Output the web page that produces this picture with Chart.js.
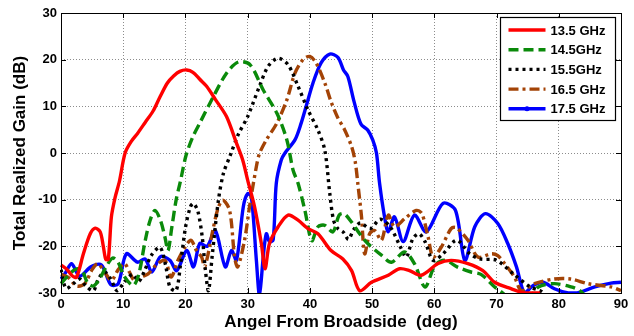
<!DOCTYPE html>
<html>
<head>
<meta charset="utf-8">
<script src="https://cdn.jsdelivr.net/npm/chart.js@4.4.1/dist/chart.umd.min.js"></script>
<style>
  html, body { margin: 0; padding: 0; background: #fff; }
  #wrap { width: 634px; height: 336px; }
</style>
</head>
<body>
<div id="wrap"><canvas id="gain" width="634" height="336"></canvas></div>
<script>
// angles (deg) and realized gain (dB)
const redAngle = [0, 1, 1.8, 2.5, 3.6, 4.7, 5.5, 6.3, 6.8, 7.2, 7.6, 8.1, 8.7, 9.4, 10.3, 11.3, 12.3, 13.5, 14.8, 15.9, 17.1, 18.1, 19.1, 20.2, 21.2, 22.3, 23.4, 24.8, 26.6, 28.2, 29.2, 30, 31.1, 32.2, 32.8, 33.5, 34.9, 36.5, 38.1, 39.7, 41.3, 43.4, 45.3, 46.7, 48, 49.9, 52.6, 54.4, 56, 57.9, 60.6, 62.7, 65.4, 67.8, 69.7, 72.4, 74.5, 77];
const redGain = [-24, -25, -26.3, -26.6, -21.6, -17.3, -16.1, -16.9, -20, -22.8, -22.8, -13.7, -9.5, -6, 0, 2.5, 4.2, 6.5, 9, 12, 15, 16.5, 17.5, 17.8, 17.3, 15.8, 14.3, 11.5, 7.8, 2.1, -1.5, -5.8, -11.5, -19.4, -24.8, -19.4, -15.8, -13.3, -14.4, -16.2, -17.3, -20.9, -22.7, -25.2, -29.5, -27.7, -26.2, -24.8, -25.2, -26.2, -23.7, -23, -23.7, -25.2, -27.7, -29.1, -30, -30];

const greenAngle = [0, 1, 2.2, 3.3, 4.3, 5.2, 6.2, 7.2, 8.3, 9.2, 10.2, 11.6, 12.5, 13.5, 14.3, 15.1, 16, 16.7, 17.2, 17.8, 18.5, 19.2, 20.1, 21.2, 22.3, 24.5, 26.6, 28.5, 30.4, 32.5, 34.7, 36.3, 37.3, 38.1, 39.2, 40.3, 41.3, 42.4, 43.7, 44.7, 45.5, 46.7, 48, 49.3, 51.5, 53.1, 55.2, 56.8, 58.5, 60.1, 61.7, 63.8, 65.9, 67.5, 69.7, 71, 72.5, 75, 76.7, 79.3, 82, 83.4, 84.5];
const greenGain = [-28, -26.5, -25, -25, -27.9, -28.5, -27, -24.5, -22.5, -23.5, -26.5, -28.4, -26, -19, -14.5, -12.3, -14.5, -18, -20.9, -16, -10.1, -6, -0.5, 3.5, 6.4, 12.1, 17.1, 19.5, 18.9, 13.5, 8.5, 2.8, -3.7, -6.5, -12.3, -18.8, -15.8, -15.5, -16.9, -13.3, -13, -14.8, -17.3, -19.4, -21.9, -23.4, -21.2, -23.7, -28.7, -24.1, -23, -24.5, -25.5, -26, -28.7, -30, -31.5, -31.5, -28.7, -28, -28.7, -29.5, -31];

const blackAngle = [0, 0.8, 2, 3, 4, 5.2, 6, 7, 8, 9, 10, 11.5, 12.5, 13.5, 14.5, 15.9, 16.8, 17.5, 18.5, 19.2, 20, 20.8, 21.3, 22, 22.7, 23.2, 23.7, 24.3, 25.3, 26.1, 27.2, 28.5, 30, 31.9, 33.3, 34.9, 36.5, 38.1, 39.7, 41.3, 42.4, 43.2, 43.8, 44.5, 45.4, 46.2, 47, 48.1, 49.7, 51.3, 52.9, 54.5, 55.5, 56.5, 57.5, 58.5, 59.8, 61.4, 63.6, 65.7, 67.3, 70, 72.7, 75.4, 77, 78];
const blackGain = [-25, -29, -28, -27, -28.5, -29.5, -27, -25.5, -27, -29.5, -28, -26, -27.5, -25, -22, -20.2, -24, -28.7, -29.5, -24, -16, -11.5, -10.8, -12.5, -18, -25, -29.5, -22, -10.1, -4.4, -0.5, 4, 7.8, 14.3, 18.6, 20.3, 18.9, 14.3, 9.2, 4.9, 0.6, -8.7, -14.4, -16.2, -17, -18.5, -16.5, -15, -16.2, -14.2, -15.8, -20, -22.3, -18.5, -17.3, -19, -23, -21.6, -18.7, -21.6, -22.7, -23, -25.9, -28.7, -29.5, -30.5];

const brownAngle = [0, 1.1, 2.5, 3.8, 5, 5.9, 7, 8.1, 9.2, 10.2, 11, 11.8, 13, 14, 15.3, 16.7, 17.7, 18.8, 20, 20.9, 21.8, 22.6, 23.1, 24.4, 25.2, 26, 27.1, 27.9, 28.4, 29.5, 30.3, 31.4, 31.9, 33, 34.7, 36.3, 37.6, 38.9, 40, 41, 42.4, 43.4, 44.5, 45.5, 46.7, 47.3, 47.7, 48.3, 48.8, 49.6, 50.4, 51.5, 52.6, 53.6, 55.3, 57.1, 58, 59, 59.8, 61.1, 62.7, 63.5, 65.4, 67, 69.2, 70.2, 71.3, 72.9, 74, 76.1, 79.3, 81.9, 84.7, 88.4, 90];
const brownGain = [-26, -26.6, -28.5, -28, -25, -23.7, -25.5, -27.3, -25, -23.7, -25.5, -27.3, -26.5, -25.9, -24, -23, -26.6, -23, -20, -18.7, -21, -22.3, -24.4, -16.6, -12, -10.1, -12.3, -22.3, -24.4, -18.7, -11.5, -2.9, -0.1, 2.8, 6.4, 11.4, 17.1, 20, 20.7, 19.3, 15, 11, 7.5, 5.2, 1.4, -2, -6.5, -13.7, -21.6, -17.3, -16.6, -18.7, -13.3, -15.8, -14, -12.3, -13, -18, -22.3, -20.2, -16.2, -16, -18.7, -22.3, -21.6, -22, -23.7, -26.6, -29.5, -28, -27, -27, -28, -28.7, -29.5];

const blueAngle = [0, 0.8, 1.7, 3, 4.8, 6.5, 8, 9.2, 10.5, 12.3, 13.5, 14.6, 16, 17.5, 18.6, 20.2, 21.3, 22.3, 23.5, 24.8, 26.4, 27.4, 28.2, 29.3, 30, 30.6, 31.4, 31.9, 32.5, 33, 33.5, 34.1, 34.6, 35.4, 36, 37.6, 38.6, 39.4, 40.5, 41.8, 43.2, 44.5, 45.4, 46.1, 47.1, 48.2, 49.3, 50.1, 50.7, 51.2, 52, 52.6, 53.6, 55, 56.8, 58.7, 61.4, 63.4, 64.9, 66.5, 68.2, 70.2, 71.8, 73.2, 74.5, 75.9, 77.5, 79.3, 81.5, 83, 85.8, 88.4, 90];
const blueGain = [-27, -25.5, -23.7, -26.4, -24.4, -24, -28.2, -28, -21.6, -23.4, -22.7, -25.5, -22.2, -23, -25.2, -20.9, -24.4, -19.4, -20, -16.6, -24.4, -20.9, -23, -11.5, -8.7, -9.5, -23, -30.5, -22.3, -17.3, -19, -18.6, -6.5, -1.5, 0, 2.8, 6.4, 10, 15, 19.3, 21.2, 20.5, 17.8, 16.4, 11, 6.2, 4.9, 2.8, 0, -6.5, -13.7, -16.9, -13.7, -19, -13.3, -16.9, -10.8, -12.3, -23, -15.8, -13, -15.1, -19.4, -24.4, -30, -28.4, -27.7, -29.1, -30, -30, -28.7, -27.9, -27.7];

const seriesNames = ["13.5 GHz", "14.5GHz", "15.5GHz", "16.5 GHz", "17.5 GHz"];
const xTicks = [0, 10, 20, 30, 40, 50, 60, 70, 80, 90];
const yTicks = [-30, -20, -10, 0, 10, 20, 30];

const pairs = (xs, ys) => xs.map((x, i) => ({ x: x, y: ys[i] }));

const FONT = "'Liberation Sans', Arial, sans-serif";

// box round the plot, inward ticks, legend inside the top right corner
const matlabLook = {
  id: "matlabLook",
  afterDatasetsDraw(chart) {
    const { ctx, chartArea: a, scales } = chart;
    ctx.save();
    ctx.strokeStyle = "#000";
    ctx.lineWidth = 1;
    ctx.setLineDash([]);
    ctx.beginPath();
    xTicks.forEach((t) => {
      const px = Math.round(scales.x.getPixelForValue(t)) + 0.5;
      ctx.moveTo(px, a.bottom); ctx.lineTo(px, a.bottom - 5);
      ctx.moveTo(px, a.top); ctx.lineTo(px, a.top + 5);
    });
    yTicks.forEach((t) => {
      const py = Math.round(scales.y.getPixelForValue(t)) + 0.5;
      ctx.moveTo(a.left, py); ctx.lineTo(a.left + 5, py);
      ctx.moveTo(a.right, py); ctx.lineTo(a.right - 5, py);
    });
    ctx.stroke();
    ctx.strokeRect(Math.round(a.left) + 0.5, Math.round(a.top) + 0.5,
      Math.round(a.right - a.left), Math.round(a.bottom - a.top));

    // legend
    const bw = 115, bh = 103;
    const bx = Math.round(a.right - 6 - bw) + 0.5, by = Math.round(a.top + 4) + 0.5;
    ctx.fillStyle = "#fff";
    ctx.fillRect(bx, by, bw, bh);
    ctx.strokeStyle = "#000";
    ctx.lineWidth = 1.2;
    ctx.strokeRect(bx, by, bw, bh);
    ctx.font = "bold 13px " + FONT;
    ctx.textBaseline = "middle";
    chart.data.datasets.forEach((ds, i) => {
      const cy = by + 12.5 + i * 19.7;
      ctx.strokeStyle = ds.borderColor;
      ctx.lineWidth = ds.borderWidth;
      ctx.setLineDash(ds.borderDash || []);
      ctx.beginPath();
      ctx.moveTo(bx + 8, cy);
      ctx.lineTo(bx + 45, cy);
      ctx.stroke();
      ctx.setLineDash([]);
      if (ds.legendMarker) {
        ctx.fillStyle = ds.borderColor;
        ctx.beginPath();
        ctx.arc(bx + 26.5, cy, 2.5, 0, Math.PI * 2);
        ctx.fill();
      }
      ctx.fillStyle = "#000";
      ctx.fillText(ds.label, bx + 50, cy + 1);
    });
    ctx.restore();
  },
};

const lineSet = (label, xs, ys, color, dash, marker) => ({
  label: label,
  data: pairs(xs, ys),
  borderColor: color,
  backgroundColor: color,
  borderWidth: 3.4,
  borderDash: dash,
  pointRadius: 0,
  pointHoverRadius: 0,
  legendMarker: marker,
  tension: 0.3,
  fill: false,
  clip: 1,
});

new Chart(document.getElementById("gain"), {
  type: "line",
  data: {
    datasets: [
      lineSet(seriesNames[0], redAngle, redGain, "#ff0000", [], false),
      lineSet(seriesNames[1], greenAngle, greenGain, "#0a8a0a", [10, 5], false),
      lineSet(seriesNames[2], blackAngle, blackGain, "#000000", [3, 4], false),
      lineSet(seriesNames[3], brownAngle, brownGain, "#a34306", [10, 4, 3, 4], false),
      lineSet(seriesNames[4], blueAngle, blueGain, "#0000ff", [], true),
    ],
  },
  options: {
    responsive: false,
    animation: false,
    devicePixelRatio: 1,
    layout: { padding: { top: 13, right: 13, left: 0, bottom: 0 } },
    plugins: { legend: { display: false }, tooltip: { enabled: false } },
    scales: {
      x: {
        type: "linear",
        min: 0,
        max: 90,
        afterBuildTicks: (s) => { s.ticks = xTicks.map((v) => ({ value: v })); },
        afterFit: (s) => { s.height = 43; },
        ticks: { color: "#000", padding: 4, maxRotation: 0, font: { family: FONT, size: 13, weight: "bold" } },
        grid: { color: "#8c8c8c", lineWidth: 1, drawTicks: false },
        border: { display: false, dash: [1, 2] },
        title: {
          display: true,
          text: "Angel From Broadside  (deg)",
          color: "#000",
          font: { family: FONT, size: 17, weight: "bold" },
          padding: { top: 0, bottom: 3 },
        },
      },
      y: {
        min: -30,
        max: 30,
        afterBuildTicks: (s) => { s.ticks = yTicks.map((v) => ({ value: v })); },
        afterFit: (s) => { s.width = 61; },
        ticks: { color: "#000", padding: 4, font: { family: FONT, size: 13, weight: "bold" } },
        grid: { color: "#8c8c8c", lineWidth: 1, drawTicks: false },
        border: { display: false, dash: [1, 2] },
        title: {
          display: true,
          text: "Total Realized Gain (dB)",
          color: "#000",
          font: { family: FONT, size: 17, weight: "bold" },
          padding: { top: 10, bottom: 0 },
        },
      },
    },
  },
  plugins: [matlabLook],
});
</script>
</body>
</html>
